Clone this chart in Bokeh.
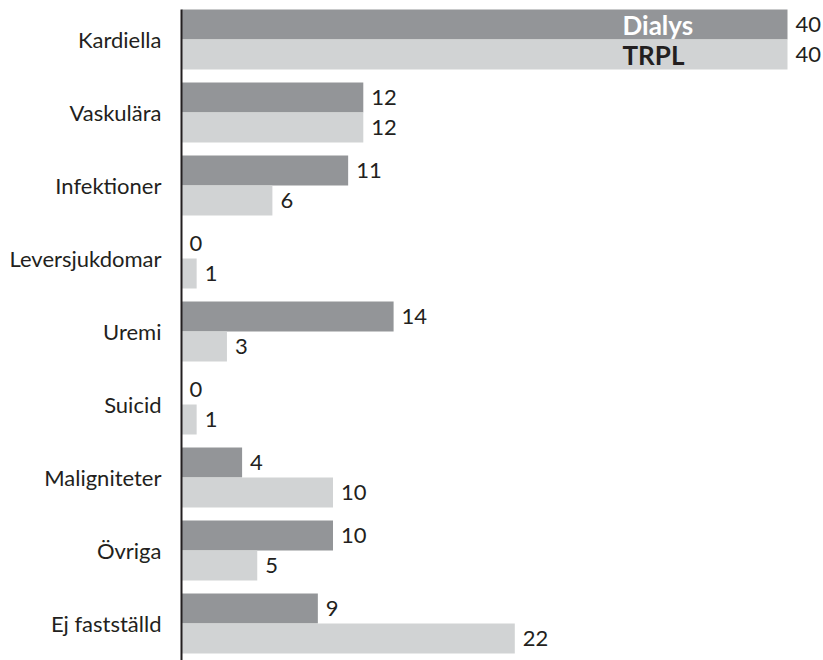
from bokeh.plotting import figure
from bokeh.models import Range1d, FixedTicker, ColumnDataSource
from bokeh.core.properties import value
from bokeh.embed import file_html
from bokeh.resources import INLINE

categories = ["Kardiella", "Vaskulära", "Infektioner", "Leversjukdomar", "Uremi",
              "Suicid", "Maligniteter", "Övriga", "Ej fastställd"]
dialys = [40, 12, 11, 0, 14, 0, 4, 10, 9]
trpl = [40, 12, 6, 1, 3, 1, 10, 5, 22]
series_names = ["Dialys", "TRPL"]

DARK = "#939598"
LIGHT = "#d1d3d4"
TEXT = "#231f20"
FONT = "Lato"

slot_px = 73.0
bar_h = 30.0 / slot_px
off = 15.0 / slot_px

idx = list(range(len(categories)))
y_d = [k - off for k in idx]
y_t = [k + off for k in idx]

y_bottom = (660 - 39) / slot_px
y_top = (0 - 39) / slot_px

p = figure(width=823, height=660, output_backend="svg", toolbar_location=None,
           x_axis_location=None,
           x_range=Range1d(0, 642 / 15.15),
           y_range=Range1d(y_bottom, y_top),
           min_border_left=181, min_border_right=0, min_border_top=0, min_border_bottom=0)
p.outline_line_color = None
p.xgrid.visible = False
p.ygrid.visible = False
p.background_fill_color = "white"
p.border_fill_color = "white"

src_d = ColumnDataSource(dict(y=y_d, v=dialys, lab=[str(v) for v in dialys]))
src_t = ColumnDataSource(dict(y=y_t, v=trpl, lab=[str(v) for v in trpl]))

p.hbar(y="y", left=0, right="v", height=bar_h, source=src_d, fill_color=DARK, line_color=None)
p.hbar(y="y", left=0, right="v", height=bar_h, source=src_t, fill_color=LIGHT, line_color=None)

for src in (src_d, src_t):
    p.text(x="v", y="y", text="lab", source=src, x_offset=8,
           text_align="left", text_baseline="middle",
           text_font=value(FONT), text_font_size="22px", text_color=TEXT)

# in-bar legend labels on the first category's bars
leg = ColumnDataSource(dict(x=[dialys[0], trpl[0]], y=[y_d[0], y_t[0]],
                            t=series_names, c=["white", TEXT]))
p.text(x="x", y="y", text="t", source=leg, x_offset=-165,
       text_align="left", text_baseline="middle", text_color="c",
       text_font=value(FONT), text_font_style="bold", text_font_size="26px")

ax = p.yaxis[0]
ax.ticker = FixedTicker(ticks=idx)
ax.major_label_overrides = {k: c for k, c in zip(idx, categories)}
ax.bounds = (y_d[0] - bar_h / 2, y_bottom)
ax.major_tick_line_color = None
ax.minor_tick_line_color = None
ax.axis_line_color = TEXT
ax.axis_line_width = 2
ax.major_label_text_font = FONT
ax.major_label_text_font_size = "22px"
ax.major_label_text_color = TEXT
ax.major_label_standoff = 14

open("out.html", "w").write(file_html(p, INLINE))
